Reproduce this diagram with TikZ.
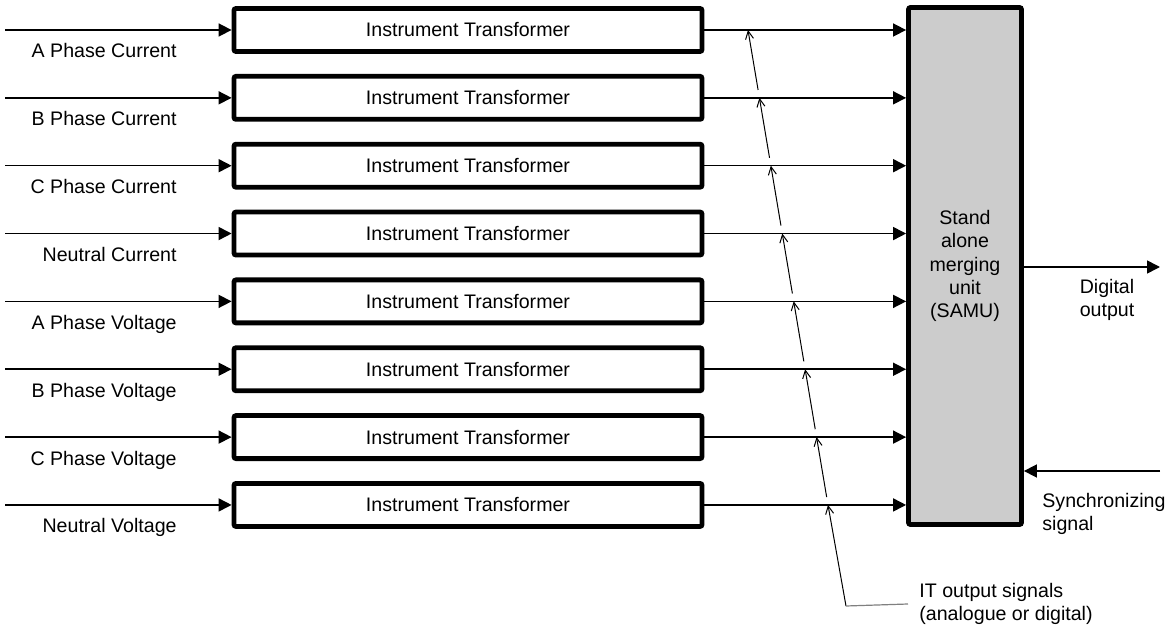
\documentclass[tikz,border=0pt]{standalone}
\usepackage{fontspec}
\setmainfont{Liberation Sans}
\usetikzlibrary{arrows.meta}

\begin{document}
\begin{tikzpicture}[x=0.5pt,y=-0.5pt,every node/.style={font=\fontsize{9.8}{11.6}\selectfont},
    itbox/.style={draw,line width=2.4pt,rounded corners=1pt,minimum width=234pt,minimum height=21.5pt,inner sep=0pt},
    sig/.style={line width=0.8pt,-{Triangle[length=6.5pt,width=6.5pt]}},
    itsig/.style={line width=0.5pt,-{Straight Barb[length=4pt,width=4pt]}}]
  \useasboundingbox (0,0) rectangle (1175,631);
  \node[draw,line width=2.4pt,rounded corners=1pt,fill=black!20,minimum width=56.5pt,minimum height=258.5pt,align=center,inner sep=0pt] (samu) at (965,266) {Stand\\alone\\merging\\unit\\(SAMU)};
  \foreach \lab [count=\i] in {A Phase Current,B Phase Current,C Phase Current,Neutral Current,A Phase Voltage,B Phase Voltage,C Phase Voltage,Neutral Voltage}{
    \pgfmathsetmacro\ry{30+(\i-1)*67.85}
    \pgfmathsetmacro\px{748+(\i-1)*80/7}
    \node[itbox] (it\i) at (468,\ry) {Instrument Transformer};
    \coordinate (src\i) at (5,\ry);
    \coordinate (p\i) at (\px,\ry);
    \node[anchor=base east,inner sep=0pt] (lab\i) at (177,\ry+28) {\lab};
    \draw[sig] (src\i) -- (it\i.west);
    \draw[sig] (it\i.east) -- (it\i.east -| samu.west);
  }
  % IT output signals
  \foreach \i [evaluate=\i as \j using int(\i+1)] in {1,...,7}
    \draw[itsig,shorten <=4pt] (p\j) -- (p\i);
  \coordinate (itcorner) at (846,606);
  \draw[itsig] (itcorner) -- (p8);
  \node[anchor=west,align=left,inner sep=0pt] (itlab) at (919,604) {IT output signals\\(analogue or digital)};
  \draw[gray,line width=0.6pt] (itcorner) -- ([xshift=-5.5pt]itlab.west);
  % SAMU output and sync
  \coordinate (dig) at (1160,267);
  \draw[sig] (samu.east |- dig) -- (dig);
  \node[align=center,inner sep=0pt] (diglab) at (1107,300) {Digital\\output};
  \coordinate (sync) at (1160,471);
  \draw[sig] (sync) -- (sync -| samu.east);
  \node[anchor=west,align=left,inner sep=0pt] (synclab) at (1042,514) {Synchronizing\\signal};
\end{tikzpicture}
\end{document}
